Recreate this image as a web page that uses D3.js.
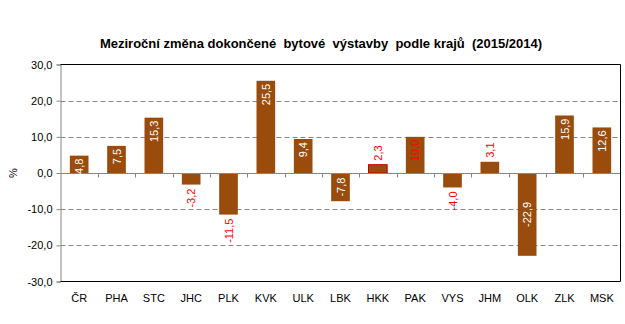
<!DOCTYPE html>
<html><head><meta charset="utf-8">
<script src="https://cdn.jsdelivr.net/npm/d3@7"></script>
<style>body{margin:0;background:#fff}svg{display:block}</style>
</head><body><svg id="c" width="625" height="324"></svg>
<script>
const title = "Meziroční změna dokončené  bytové  výstavby  podle krajů  (2015/2014)";
const categories = ["ČR","PHA","STC","JHC","PLK","KVK","ULK","LBK","HKK","PAK","VYS","JHM","OLK","ZLK","MSK"];
const values = [4.8,7.5,15.3,-3.2,-11.5,25.5,9.4,-7.8,2.3,10.0,-4.0,3.1,-22.9,15.9,12.6];
const yTicks = [-30,-20,-10,0,10,20,30];
const yLabel = "%";
// label styling: "in" = inside white, "inRed" = inside red, "out" = outside red, "mid" = centered white
const labelMode = ["in","in","in","out","out","in","in","mid","out","inRed","out","out","mid","in","in"];

const svg = d3.select("#c");
const L=60.5, R=620.5, T=64.5, B=281.5;
const x = d3.scaleBand().domain(categories).range([L,R]).paddingInner(0.5).paddingOuter(0.25);
const y = d3.scaleLinear().domain([-30,30]).range([B,T]);
const fmt = v => d3.format(".1f")(v).replace(".",",").replace("\u2212","-");
const font = "'Liberation Sans', Arial, sans-serif";

svg.append("text").attr("x",321).attr("y",48).attr("text-anchor","middle")
  .attr("font-family",font).attr("font-size",13).attr("font-weight","bold")
  .style("white-space","pre").text(title);

// gridlines
svg.append("g").selectAll("line").data(yTicks.filter(t=>t!==0&&Math.abs(t)!==30)).join("line")
  .attr("x1",L).attr("x2",R).attr("y1",d=>Math.round(y(d))+0.5).attr("y2",d=>Math.round(y(d))+0.5)
  .attr("stroke","#868686").attr("stroke-dasharray","5,3");

// y axis
const ya = svg.append("g").attr("transform",`translate(${L},0)`)
  .call(d3.axisLeft(y).tickValues(yTicks).tickSize(4).tickFormat(fmt));
ya.select(".domain").attr("stroke","#868686");
ya.selectAll(".tick line").attr("stroke","#868686");
ya.selectAll(".tick text").attr("font-family",font).attr("font-size",11).attr("fill","#000").attr("x",-8);

// bars
svg.append("g").selectAll("rect").data(values).join("rect")
  .attr("x",(d,i)=>x(categories[i])).attr("width",x.bandwidth())
  .attr("y",d=>y(Math.max(0,d))).attr("height",d=>Math.abs(y(d)-y(0)))
  .attr("fill","#994C0C")
  .attr("stroke",(d,i)=>categories[i]==="HKK"?"#C00000":"none");

// zero line and x ticks
svg.append("line").attr("x1",L).attr("x2",R).attr("y1",Math.round(y(0))+0.5).attr("y2",Math.round(y(0))+0.5).attr("stroke","#868686");
svg.append("g").selectAll("line").data(d3.range(1,categories.length)).join("line")
  .attr("x1",d=>Math.round(L+(R-L)*d/categories.length)+0.5).attr("x2",d=>Math.round(L+(R-L)*d/categories.length)+0.5)
  .attr("y1",Math.round(y(0))+0.5).attr("y2",Math.round(y(0))+4.5).attr("stroke","#868686");

// frame top/right/bottom
svg.append("path").attr("d",`M${L},${T}H${R}V${B}H${L}`).attr("fill","none").attr("stroke","#000");

// x labels
svg.append("g").selectAll("text").data(categories).join("text")
  .attr("x",d=>x(d)+x.bandwidth()/2).attr("y",302).attr("text-anchor","middle")
  .attr("font-family",font).attr("font-size",11).attr("fill","#000").text(d=>d);

// y label
svg.append("text").attr("transform","translate(17,173) rotate(-90)").attr("text-anchor","middle")
  .attr("font-family",font).attr("font-size",11).text(yLabel);

// value labels
svg.append("g").selectAll("text").data(values).join("text")
  .attr("transform",(d,i)=>{
    const cx = x(categories[i])+x.bandwidth()/2+4;
    const m = labelMode[i];
    let py;
    if(m==="in"||m==="inRed") py = y(d)+3;
    else if(m==="mid") py = (y(d)+y(0))/2;
    else py = d>=0 ? y(d)-4 : y(d)+4;
    return `translate(${cx},${py}) rotate(-90)`;
  })
  .attr("text-anchor",(d,i)=>{
    const m=labelMode[i];
    if(m==="mid") return "middle";
    if(m==="out" && d>=0) return "start";
    return "end";
  })
  .attr("font-family",font).attr("font-size",11)
  .attr("fill",(d,i)=>labelMode[i]==="in"||labelMode[i]==="mid"?"#fff":"#FF0000")
  .text(fmt);
</script></body></html>
